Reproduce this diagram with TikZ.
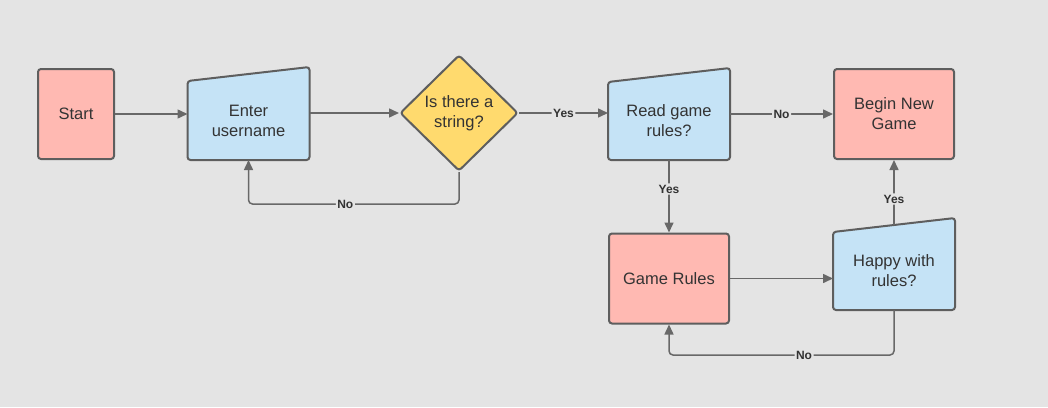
\documentclass[tikz,border=0pt]{standalone}
\usepackage{fontspec}
\setmainfont{Liberation Sans}
\usetikzlibrary{shapes.geometric}
\usetikzlibrary{arrows.meta}
\usetikzlibrary{calc}
\usetikzlibrary{backgrounds}
\definecolor{bgc}{RGB}{228,228,228}
\definecolor{pinkc}{RGB}{255,185,178}
\definecolor{bluec}{RGB}{197,227,246}
\definecolor{yelc}{RGB}{255,218,110}
\definecolor{edgec}{RGB}{94,94,94}
\definecolor{linec}{RGB}{104,104,104}
\definecolor{txtc}{RGB}{51,51,51}
\begin{document}
\begin{tikzpicture}[x=1pt,y=-1pt,>={Triangle[length=10pt,width=9pt]},
                        box/.style={rectangle,rounded corners=3pt,draw=edgec,line width=2pt,fill=pinkc,
                            minimum width=120pt,minimum height=90pt,inner sep=0pt,align=center,text=txtc,
                            font=\fontsize{16.5}{20}\selectfont},
                        inbox/.style={box,draw=none,fill=none,minimum height=76pt},
                        inshape/.style={rounded corners=3pt,draw=edgec,line width=2pt,fill=bluec},
                        decide/.style={diamond,rounded corners=3pt,draw=edgec,line width=2pt,fill=yelc,
                            minimum width=118pt,minimum height=116pt,inner sep=0pt,align=center,text=txtc,
                            font=\fontsize{16.5}{20}\selectfont},
                        conn/.style={->,draw=linec,line width=1.5pt,rounded corners=4pt},
                        lbl/.style={fill=bgc,inner sep=1.5pt,text=txtc,font=\bfseries\fontsize{12}{14}\selectfont}]
                        \begin{scope}[on background layer]
                            \fill[bgc] (0,0) rectangle (1048,407);
                        \end{scope}
                        \useasboundingbox (0,0) rectangle (1048,407);
                        \node[box,minimum width=76pt] (start) at (76,114) {Start};
                        \node[inbox,minimum height=77pt] (user) at (248.5,120.5) {Enter\\username};
                        \node[decide] (str) at (459,113) {Is there a\\string?};
                        \node[inbox] (read) at (669,121) {Read game\\rules?};
                        \node[box] (new) at (894,114) {Begin New\\Game};
                        \node[box] (rules) at (669,278.5) {Game Rules};
                        \node[inbox] (happy) at (894,271) {Happy with\\rules?};
                        \begin{scope}[on background layer]
                            \foreach \n in {user,read,happy}
                                \draw[inshape] (\n.south west) -- (\n.north west)
                                    -- ($(\n.north east)+(0,-14)$) -- (\n.south east) -- cycle;
                        \end{scope}
                        \draw[conn] (start.east) -- (start.east -| user.west);
                        \draw[conn] (user.east |- str.west) -- (str.west);
                        \draw[conn] (str.east) -- node[lbl]{Yes} (str.east -| read.west);
                        \draw[conn] (str.south) -- ++(0,32) -| node[lbl,pos=0.27]{No} (user.south);
                        \draw[conn] (read.east |- new.west) -- node[lbl]{No} (new.west);
                        \draw[conn] (read.south) -- node[lbl,pos=0.4]{Yes} (rules.north);
                        \draw[conn] (rules.east) -- (rules.east -| happy.west);
                        \draw[conn] ($(happy.north)+(0,-7)$) -- node[lbl,pos=0.4]{Yes} (new.south);
                        \draw[conn] (happy.south) -- ++(0,45) -| node[lbl,pos=0.2]{No} (rules.south);
                    \end{tikzpicture}
\end{document}
